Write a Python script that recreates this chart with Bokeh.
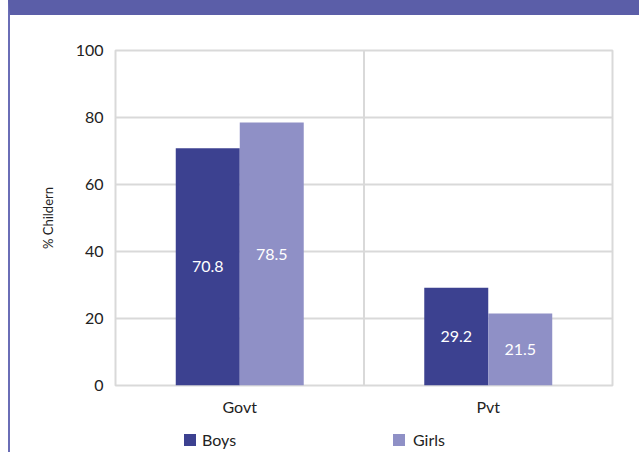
from bokeh.plotting import figure
from bokeh.models import ColumnDataSource, FactorRange, Range1d, Span, FixedTicker, Div
from bokeh.transform import dodge
from bokeh.layouts import column
from bokeh.core.properties import value
from bokeh.embed import file_html
from bokeh.resources import INLINE

# ---- data ----
categories = ["Govt", "Pvt"]
series_names = ["Boys", "Girls"]
boys = [70.8, 29.2]
girls = [78.5, 21.5]
y_ticks = [0, 20, 40, 60, 80, 100]
y_label = "% Childern"

# ---- style ----
FONT = "Lato"
BOYS_C = "#3c4190"
GIRLS_C = "#8f90c6"
GRID_C = "#d9d9d9"
BAND_C = "#5b5ea8"
TEXT_C = "#222222"

src = ColumnDataSource(dict(
    cat=categories,
    boys=boys,
    girls=girls,
    boys_mid=[v / 2 for v in boys],
    girls_mid=[v / 2 for v in girls],
    boys_txt=[f"{v:.1f}" for v in boys],
    girls_txt=[f"{v:.1f}" for v in girls],
))

p = figure(x_range=FactorRange(*categories), y_range=Range1d(0, 100),
           width=629, height=413, output_backend="svg", toolbar_location=None,
           min_border_left=105, min_border_right=27, min_border_top=35,
           min_border_bottom=43)

BW = 0.2575
OFF = BW / 2
r_boys = p.vbar(x=dodge("cat", -OFF, range=p.x_range), top="boys", width=BW,
                source=src, fill_color=BOYS_C, line_color=None)
r_girls = p.vbar(x=dodge("cat", OFF, range=p.x_range), top="girls", width=BW,
                 source=src, fill_color=GIRLS_C, line_color=None)

p.text(x=dodge("cat", -OFF, range=p.x_range), y="boys_mid", text="boys_txt", source=src,
       text_color="white", text_font=value(FONT), text_font_size="16px",
       text_align="center", text_baseline="middle")
p.text(x=dodge("cat", OFF, range=p.x_range), y="girls_mid", text="girls_txt", source=src,
       text_color="white", text_font=value(FONT), text_font_size="16px",
       text_align="center", text_baseline="middle")

# divider between categories
p.add_layout(Span(location=1, dimension="height", line_color=GRID_C, line_width=2))

p.xgrid.visible = False
p.ygrid.ticker = FixedTicker(ticks=y_ticks)
p.ygrid.grid_line_color = GRID_C
p.ygrid.grid_line_width = 2
p.outline_line_color = GRID_C
p.outline_line_width = 2
p.background_fill_color = "white"
p.border_fill_color = "white"

ya = p.yaxis[0]
ya.ticker = FixedTicker(ticks=y_ticks)
ya.axis_line_color = None
ya.major_tick_line_color = None
ya.minor_tick_line_color = None
ya.major_tick_out = 0
ya.major_tick_in = 0
ya.major_label_text_font = FONT
ya.major_label_text_font_size = "16px"
ya.major_label_text_color = TEXT_C
ya.major_label_standoff = 12
ya.axis_label = y_label
ya.axis_label_text_font = FONT
ya.axis_label_text_font_size = "13px"
ya.axis_label_text_font_style = "normal"
ya.axis_label_text_color = TEXT_C
ya.axis_label_standoff = 17

xa = p.xaxis[0]
xa.axis_line_color = None
xa.major_tick_line_color = None
xa.minor_tick_line_color = None
xa.major_tick_out = 0
xa.major_tick_in = 0
xa.major_label_text_font = FONT
xa.major_label_text_font_size = "16px"
xa.major_label_text_color = TEXT_C
xa.major_label_standoff = 11

# legend row (HTML, real text)
legend_colors = [BOYS_C, GIRLS_C]
sq_left = [174, 383]
txt_left = [192, 403]
parts = []
for name, col, sl, tl in zip(series_names, legend_colors, sq_left, txt_left):
    parts.append(
        f'<div style="position:absolute;left:{sl}px;top:6px;width:12px;height:12px;'
        f'background:{col};"></div>'
        f'<div style="position:absolute;left:{tl}px;top:4px;font-family:{FONT};'
        f'font-size:16px;line-height:16px;color:{TEXT_C};white-space:nowrap;">{name}</div>'
    )
legend_div = Div(text='<div style="position:relative;width:629px;height:24px;">' + "".join(parts) + "</div>",
                 width=629, height=24, styles={"margin": "0", "padding": "0"})

page = column(p, legend_div, styles={"border-top": "15px solid " + BAND_C,
                                     "border-left": "2px solid #6a6db6",
                                     "margin-left": "8px"})

open("out.html", "w").write(file_html(page, INLINE))
